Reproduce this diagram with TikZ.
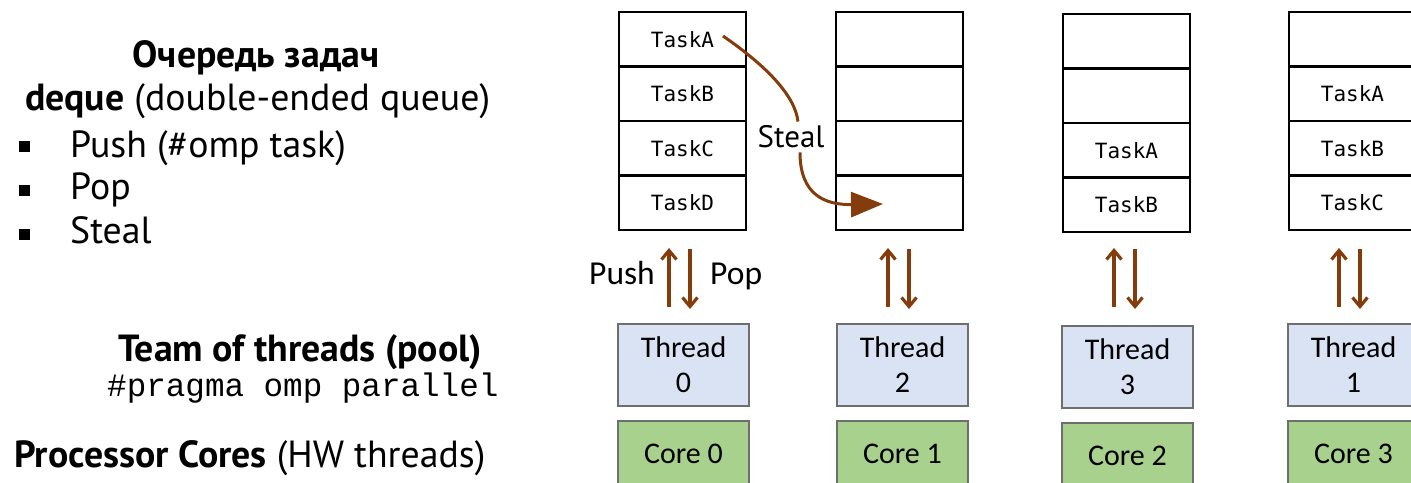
\documentclass[tikz,border=0pt]{standalone}
\usepackage{fontspec}
\setmainfont{PT Sans}
\newfontfamily\calib{Carlito}
\newfontfamily\cmono{Liberation Mono}
\newfontfamily\tmono{DejaVu Sans Mono}
\usetikzlibrary{arrows.meta}
\definecolor{brn}{HTML}{843C0C}
\definecolor{thr}{HTML}{DAE3F3}
\definecolor{cor}{HTML}{A9D18E}
\definecolor{gbd}{HTML}{6E6E6E}
\begin{document}
\begin{tikzpicture}[x=1pt,y=-1pt,
  cell/.style={draw=black,line width=2.6pt,minimum width=127pt,minimum height=54.5pt,inner sep=0pt},
  task/.style={font=\tmono\fontsize{21}{24}\selectfont,inner sep=0pt},
  thread/.style={draw=gbd,fill=thr,line width=2.4pt,minimum width=131pt,minimum height=82pt,inner sep=0pt,align=center,font=\calib\fontsize{30}{35}\selectfont},
  core/.style={draw=gbd,fill=cor,line width=2.4pt,minimum width=131pt,minimum height=66pt,inner sep=0pt,font=\calib\fontsize{30}{35}\selectfont},
  pp/.style={draw=brn,line width=3.6pt,-{Straight Barb[length=9pt,width=15pt,line width=3.2pt]}},
  lbl/.style={font=\fontsize{37.8}{42}\selectfont,inner sep=0pt},
  blbl/.style={font=\bfseries\fontsize{37.8}{42}\selectfont,inner sep=0pt},
  blt/.style={fill=black,minimum size=11pt,inner sep=0pt},
  steal/.style={draw=brn,line width=3pt}
]
\useasboundingbox (0,0) rectangle (1411,482);

% left texts
\node[blbl,anchor=base] (t1) at (256,67) {Очередь задач};
\node[lbl,anchor=base west] (t2) at (25,110) {\textbf{deque} (double-ended queue)};
\node[blt] (b1) at (24,146) {};
\node[blt] (b2) at (24,190) {};
\node[blt] (b3) at (24,234) {};
\node[lbl,anchor=base west] (t3) at (70,157) {Push (\#omp task)};
\node[lbl,anchor=base west] (t4) at (70,199) {Pop};
\node[lbl,anchor=base west] (t5) at (70,243) {Steal};
\node[blbl,anchor=base west] (t6) at (118,361) {Team of threads (pool)};
\node[anchor=base west,inner sep=0pt,font=\cmono\fontsize{32.6}{36}\selectfont] (t7) at (107,396) {\#pragma omp parallel};
\node[lbl,anchor=base west] (t8) at (14,467) {\textbf{Processor Cores} (HW threads)};

% deques
\foreach \i/\x/\y in {0/682.5/12,1/899.5/12,2/1126.5/14,3/1352.5/12}{
  \node[cell] (d\i a) at (\x,\y+27.25) {};
  \node[cell] (d\i b) at (\x,\y+81.75) {};
  \node[cell] (d\i c) at (\x,\y+136.25) {};
  \node[cell] (d\i d) at (\x,\y+190.75) {};
}
\node[task] at (d0a) (ta0) {TaskA};
\node[task] at (d0b) (tb0) {TaskB};
\node[task] at (d0c) (tc0) {TaskC};
\node[task] at (d0d) (td0) {TaskD};
\node[task] at (d2c) (ta2) {TaskA};
\node[task] at (d2d) (tb2) {TaskB};
\node[task] at (d3b) (ta3) {TaskA};
\node[task] at (d3c) (tb3) {TaskB};
\node[task] at (d3d) (tc3) {TaskC};

% threads and cores
\node[thread] (th0) at (683.5,365) {Thread\\0};
\node[thread] (th1) at (902.5,365) {Thread\\2};
\node[thread] (th2) at (1127.5,367) {Thread\\3};
\node[thread] (th3) at (1353.5,365) {Thread\\1};
\node[core] (c0) at (683.5,454) {Core 0};
\node[core] (c1) at (902.5,454) {Core 1};
\node[core] (c2) at (1127.5,456) {Core 2};
\node[core] (c3) at (1353.5,454) {Core 3};

% push/pop arrows
\foreach \i/\xa/\xb in {0/669/690,1/888/909,2/1114/1135,3/1339/1360}{
  \coordinate (u\i s) at (\xa,307);
  \coordinate (u\i e) at (\xa,248);
  \coordinate (p\i s) at (\xb,249);
  \coordinate (p\i e) at (\xb,309);
  \draw[pp] (u\i s) -- (u\i e);
  \draw[pp] (p\i s) -- (p\i e);
}
\node[font=\calib\fontsize{33.5}{36}\selectfont,anchor=base east,inner sep=0pt] (push) at (655,284) {Push};
\node[font=\calib\fontsize{33.5}{36}\selectfont,anchor=base west,inner sep=0pt] (pop) at (710,284) {Pop};

% steal
\node[font=\fontsize{31}{36}\selectfont,inner sep=0pt] (stl) at (791,137) {Steal};
\coordinate (ss) at (723,36);
\coordinate (se) at (883,204);
\draw[steal] (ss) .. controls (765,65) and (795,95) .. ([xshift=7pt,yshift=4pt]stl.north);
\draw[steal,-{Triangle[length=32pt,width=25pt]}] ([xshift=9pt,yshift=-4pt]stl.south) .. controls (800,195) and (825,205) .. (se);
\end{tikzpicture}
\end{document}
